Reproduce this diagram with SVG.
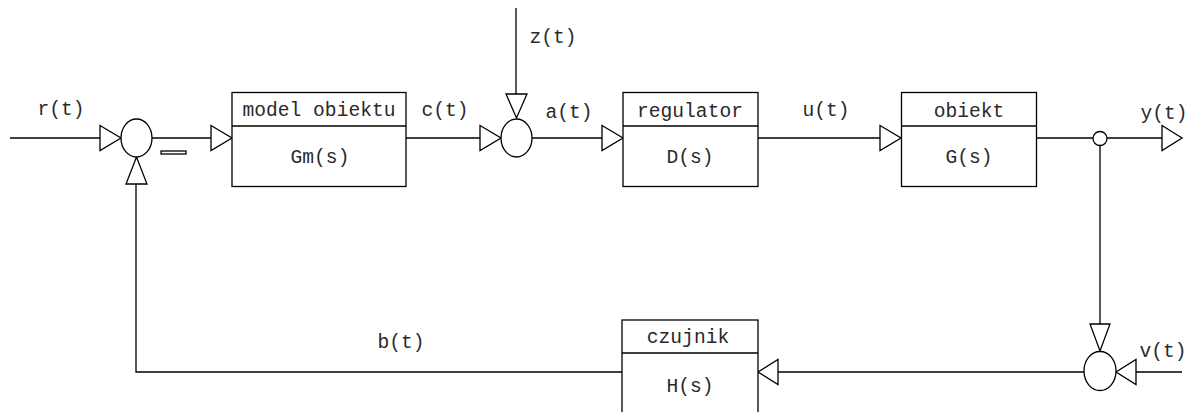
<svg xmlns="http://www.w3.org/2000/svg" width="1192" height="412" viewBox="0 0 1192 412">
<style>
.ln{fill:none;stroke:#000;stroke-width:1.3}
.bx{fill:#fff;stroke:#000;stroke-width:1.3}
.ar{fill:#fff;stroke:#000;stroke-width:1.3;stroke-linejoin:miter}
text{font-family:"Liberation Mono","DejaVu Sans Mono",monospace;font-size:19.6px;fill:#2a2a2a;text-anchor:middle}
</style>
<rect width="1192" height="412" fill="#fff"/>
<g id="connectors">
<path class="ln" d="M10,138 H100"/>
<path class="ln" d="M152,138 H211"/>
<path class="ln" d="M406,138 H480"/>
<path class="ln" d="M516,8 V94"/>
<path class="ln" d="M532,138 H602"/>
<path class="ln" d="M758,138 H880"/>
<path class="ln" d="M1037,138 H1093"/>
<path class="ln" d="M1107,138 H1162"/>
<path class="ln" d="M1100,145 V324"/>
<path class="ln" d="M1136,372 H1182"/>
<path class="ln" d="M1084,372 H778"/>
<path class="ln" d="M622,372 H136 V184"/>
<polygon class="ar" points="100,125.5 121,138 100,150.5"/>
<polygon class="ar" points="211,125.5 232,138 211,150.5"/>
<polygon class="ar" points="480,125.5 501,138 480,150.5"/>
<polygon class="ar" points="602,125.5 623,138 602,150.5"/>
<polygon class="ar" points="880,125.5 901,138 880,150.5"/>
<polygon class="ar" points="1162,125.5 1182,138 1162,150.5"/>
<polygon class="ar" points="506,94 527,94 516.5,118"/>
<polygon class="ar" points="126,184 147,184 136.5,157"/>
<polygon class="ar" points="1090,324 1110,324 1100,351"/>
<polygon class="ar" points="1136,359.5 1136,384.5 1116,372"/>
<polygon class="ar" points="778,359.5 778,384.5 758,372"/>
<rect class="ln" x="161" y="151" width="25" height="3"/>
</g>
<g id="sum1"><ellipse class="bx" cx="136.5" cy="138" rx="15.5" ry="19"/></g>
<g id="sum2"><ellipse class="bx" cx="516.5" cy="138" rx="15.5" ry="19"/></g>
<g id="sum3"><ellipse class="bx" cx="1100" cy="371" rx="16" ry="19.5"/></g>
<g id="branch"><circle class="bx" cx="1100" cy="138.5" r="7"/></g>
<g id="model">
<rect class="bx" x="232" y="92.5" width="174" height="94"/>
<path class="ln" d="M232,126 H406"/>
<text x="319" y="116">model obiektu</text>
<text x="320" y="163">Gm(s)</text>
</g>
<g id="regulator">
<rect class="bx" x="623" y="92.5" width="135" height="94"/>
<path class="ln" d="M623,126 H758"/>
<text x="690" y="117">regulator</text>
<text x="690" y="163">D(s)</text>
</g>
<g id="obiekt">
<rect class="bx" x="901.5" y="92.5" width="135" height="94"/>
<path class="ln" d="M901.5,126 H1036.5"/>
<text x="969" y="117">obiekt</text>
<text x="969" y="163">G(s)</text>
</g>
<g id="czujnik">
<rect class="bx" x="622" y="320" width="136" height="100"/>
<path class="ln" d="M622,353 H758"/>
<text x="688" y="343">czujnik</text>
<text x="690" y="392">H(s)</text>
</g>
<g id="labels">
<text x="61" y="115">r(t)</text>
<text x="445" y="116">c(t)</text>
<text x="553" y="43">z(t)</text>
<text x="569" y="118">a(t)</text>
<text x="826" y="116">u(t)</text>
<text x="1164" y="119">y(t)</text>
<text x="1163" y="357">v(t)</text>
<text x="401" y="348">b(t)</text>
</g>
</svg>
